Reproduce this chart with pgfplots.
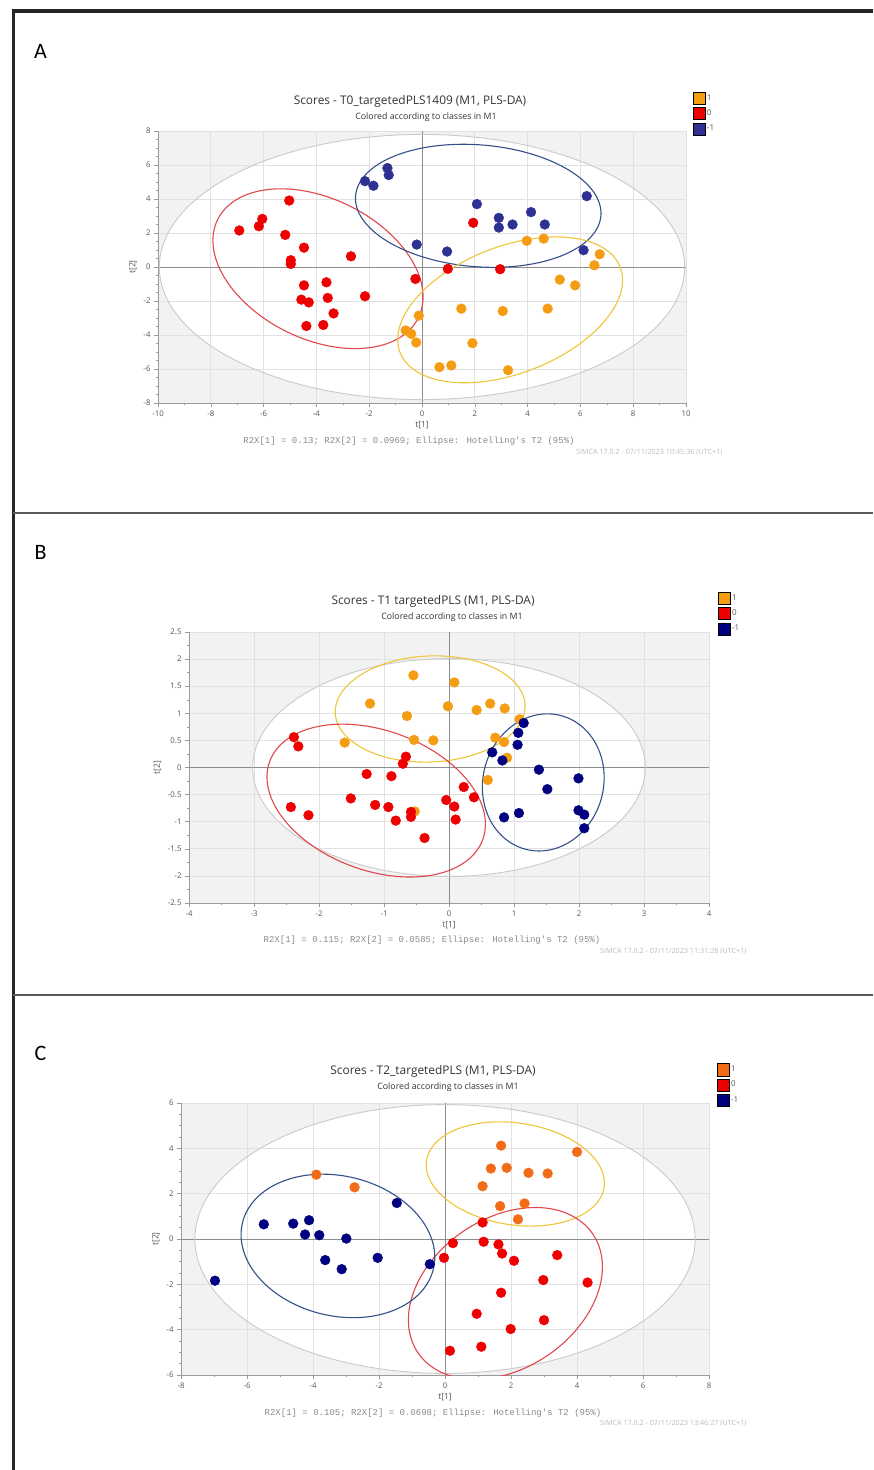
\documentclass[border=0pt]{standalone}
\usepackage{pgfplots}
\pgfplotsset{compat=1.18}
\usepackage{fontspec}
\setmainfont{Open Sans}
\newfontfamily\monof{Liberation Mono}
\newfontfamily\calib{Carlito}
\definecolor{orgA}{HTML}{F59D12}
\definecolor{orgC}{HTML}{F26C18}
\definecolor{redP}{HTML}{EE0000}
\definecolor{bluA}{HTML}{2E3192}
\definecolor{navy}{HTML}{000080}
\definecolor{elRed}{HTML}{E0474C}
\definecolor{elBlue}{HTML}{34508A}
\definecolor{elYel}{HTML}{F0C53A}
\definecolor{elGray}{HTML}{CACACA}
\definecolor{bgc}{HTML}{F2F2F2}
\definecolor{gridc}{HTML}{E1E1E1}
\definecolor{axgray}{HTML}{9A9A9A}
\definecolor{zeroc}{HTML}{8C8C8C}
\definecolor{lblc}{HTML}{555555}
\definecolor{txtc}{HTML}{333333}
\definecolor{monoc}{HTML}{8A8A8A}
\definecolor{simc}{HTML}{BBBBBB}
\newcommand{\ellp}[6]{\addplot[#6, domain=0:360, samples=181, variable=\t, forget plot, no markers] ({#1+#2*cos(\t)},{#3+#4*cos(\t-#5)});}
\pgfplotsset{
  simca/.style={
    set layers=standard,
    scale only axis,
    axis lines*=left,
    axis line style={draw=axgray, line width=0.6pt},
    tick align=outside,
    major tick length=4pt, minor tick length=2.2pt,
    tick style={draw=axgray, line width=0.5pt},
    grid=major,
    major grid style={draw=gridc, line width=0.7pt},
    axis background/.style={fill=bgc},
    ticklabel style={font=\fontsize{7.8}{8}\selectfont, text=lblc},
    /pgf/number format/assume math mode=true,
    label style={font=\fontsize{8.5}{9}\selectfont, text=lblc},
    xlabel={t[1]}, ylabel={t[2]},
    xlabel style={yshift=1.5pt},
    legend image code/.code={\path[##1] (0pt,-6pt) rectangle (12pt,6pt);},
    legend style={draw=none, fill=none, anchor=north west, font=\fontsize{8}{8}\selectfont, text=lblc, row sep=2.7pt, inner sep=0pt, nodes={inner sep=1.5pt}},
    legend cell align=left,
  },
  pts/.style={only marks, mark=*, mark size=4.9pt, forget plot},
}
\begin{document}
\begin{tikzpicture}
% frame
\draw[line width=3.2pt, black!85] (12pt,-11pt) -- (873pt,-11pt);
\draw[line width=2.7pt, black!85] (13.5pt,-9.5pt) -- (13.5pt,-1470pt);
\draw[line width=1.8pt, black!65] (13pt,-512.7pt) -- (873pt,-512.7pt);
\draw[line width=1.8pt, black!65] (13pt,-995pt) -- (873pt,-995pt);
\node[font=\calib\fontsize{22}{24}\selectfont] at (40.5pt,-51pt) {A};
\node[font=\calib\fontsize{22}{24}\selectfont] at (40.5pt,-552pt) {B};
\node[font=\calib\fontsize{22}{24}\selectfont] at (40.5pt,-1053pt) {C};

% ---------------- Panel A ----------------
\node[font=\fontsize{11.9}{13}\selectfont, text=txtc] at (410pt,-101pt) {Scores - T0\_targetedPLS1409 (M1, PLS-DA)};
\node[font=\fontsize{8.8}{10}\selectfont, text=txtc] at (426pt,-117pt) {Colored according to classes in M1};
\node[font=\monof\fontsize{9}{10}\selectfont, text=monoc] at (409pt,-441pt) {R2X[1] = 0.13; R2X[2] = 0.0969; Ellipse: Hotelling's T2 (95\%)};
\node[font=\fontsize{7.2}{8}\selectfont, text=simc, anchor=east] at (726pt,-452pt) {SIMCA 17.0.2 - 07/11/2023 10:45:36 (UTC+1)};
\begin{axis}[simca, at={(158pt,-403pt)}, anchor=south west, width=528pt, height=272pt,
  xmin=-10, xmax=10, ymin=-8, ymax=8, xtick distance=2, ytick distance=2,
  minor x tick num=1, minor y tick num=3,
  legend style={at={(axis description cs:1.013,1.143)}}]
\addlegendimage{fill=orgA}\addlegendentry{1}
\addlegendimage{fill=redP}\addlegendentry{0}
\addlegendimage{fill=bluA}\addlegendentry{-1}
\ellp{0}{9.95}{0}{7.8}{90}{on layer=axis background, fill=white, draw=none}
\addplot[zeroc, line width=0.8pt, forget plot, no markers] coordinates {(0,-8) (0,8)};
\addplot[zeroc, line width=0.8pt, forget plot, no markers] coordinates {(-10,0) (10,0)};
\ellp{0}{9.95}{0}{7.8}{90}{elGray, line width=0.9pt}
\ellp{-3.94}{3.98}{-0.1}{4.7}{110.7}{elRed, line width=1.1pt}
\ellp{2.13}{4.65}{3.6}{3.62}{97}{elBlue, line width=1.1pt}
\ellp{3.34}{4.26}{-2.52}{4.29}{66}{elYel, line width=1.1pt}
\addplot[pts, color=redP] coordinates {
(-6.92,2.15) (-6.18,2.40) (-6.05,2.83) (-5.03,3.91) (-5.18,1.89) (-4.47,1.14)
(-4.97,0.40) (-4.97,0.18) (-2.69,0.63) (-4.47,-1.08) (-3.62,-0.90) (-4.57,-1.92)
(-4.29,-2.08) (-3.57,-1.82) (-2.16,-1.72) (-3.35,-2.73) (-4.38,-3.47) (-3.74,-3.41)
(-0.25,-0.70) (0.98,-0.11) (1.94,2.60) (2.96,-0.13)};
\addplot[pts, color=bluA] coordinates {
(-2.16,5.05) (-1.84,4.78) (-1.31,5.82) (-1.26,5.41) (-0.20,1.32) (0.95,0.91)
(2.08,3.70) (2.91,2.89) (2.91,2.32) (3.43,2.50) (4.13,3.23) (4.65,2.50)
(6.24,4.17) (6.12,0.99)};
\addplot[pts, color=orgA] coordinates {
(3.97,1.54) (4.61,1.67) (6.73,0.75) (6.53,0.10) (5.22,-0.74) (5.80,-1.08)
(4.76,-2.45) (1.49,-2.45) (3.06,-2.59) (-0.12,-2.86) (-0.62,-3.73) (-0.41,-3.93)
(-0.22,-4.44) (1.91,-4.48) (0.66,-5.89) (1.11,-5.79) (3.26,-6.07)};
\end{axis}

% ---------------- Panel B ----------------
\node[font=\fontsize{11.9}{13}\selectfont, text=txtc] at (433pt,-601pt) {Scores - T1 targetedPLS (M1, PLS-DA)};
\node[font=\fontsize{8.8}{10}\selectfont, text=txtc] at (452pt,-617pt) {Colored according to classes in M1};
\node[font=\monof\fontsize{9}{10}\selectfont, text=monoc] at (432pt,-940pt) {R2X[1] = 0.115; R2X[2] = 0.0585; Ellipse: Hotelling's T2 (95\%)};
\node[font=\fontsize{7.2}{8}\selectfont, text=simc, anchor=east] at (750pt,-951pt) {SIMCA 17.0.2 - 07/11/2023 11:31:28 (UTC+1)};
\begin{axis}[simca, at={(189pt,-903pt)}, anchor=south west, width=520pt, height=271pt,
  xmin=-4, xmax=4, ymin=-2.5, ymax=2.5, xtick distance=1, ytick distance=0.5,
  minor x tick num=1, minor y tick num=1,
  legend style={at={(axis description cs:1.0173,1.147)}}]
\addlegendimage{fill=orgA}\addlegendentry{1}
\addlegendimage{fill=redP}\addlegendentry{0}
\addlegendimage{fill=navy}\addlegendentry{-1}
\ellp{0}{3.02}{0}{2.01}{90}{on layer=axis background, fill=white, draw=none}
\addplot[zeroc, line width=0.8pt, forget plot, no markers] coordinates {(0,-2.5) (0,2.5)};
\addplot[zeroc, line width=0.8pt, forget plot, no markers] coordinates {(-4,0) (4,0)};
\ellp{0}{3.02}{0}{2.01}{90}{elGray, line width=0.9pt}
\ellp{-0.29}{1.46}{1.08}{0.98}{87}{elYel, line width=1.1pt}
\ellp{-1.12}{1.68}{-0.61}{1.41}{108}{elRed, line width=1.1pt}
\ellp{1.45}{0.937}{-0.275}{1.265}{86}{elBlue, line width=1.1pt}
\addplot[pts, color=orgA] coordinates {
(-0.548,1.70) (0.082,1.57) (-1.215,1.18) (-0.647,0.95) (-0.017,1.13) (0.425,1.06)
(0.634,1.18) (0.857,1.09) (-1.605,0.46) (-0.538,0.51) (-0.241,0.50) (1.086,0.89)
(0.712,0.55) (0.847,0.47) (0.894,0.18) (0.597,-0.23) (-0.527,-0.81)};
\addplot[pts, color=redP] coordinates {
(-2.386,0.56) (-2.318,0.39) (-0.663,0.20) (-0.710,0.07) (-1.267,-0.12) (-0.886,-0.16)
(0.227,-0.36) (0.384,-0.55) (-1.511,-0.57) (-1.136,-0.69) (-0.933,-0.73) (-0.043,-0.60)
(0.082,-0.72) (-2.433,-0.73) (-2.162,-0.88) (-0.585,-0.82) (-0.585,-0.91) (-0.819,-0.98)
(0.102,-0.96) (-0.376,-1.30)};
\addplot[pts, color=navy] coordinates {
(1.149,0.82) (1.066,0.64) (1.055,0.42) (0.665,0.28) (0.821,0.13) (1.383,-0.04)
(1.513,-0.40) (1.992,-0.20) (1.992,-0.79) (2.081,-0.87) (2.081,-1.12) (1.076,-0.84)
(0.847,-0.92)};
\end{axis}

% ---------------- Panel C ----------------
\node[font=\fontsize{11.9}{13}\selectfont, text=txtc] at (433pt,-1071pt) {Scores - T2\_targetedPLS (M1, PLS-DA)};
\node[font=\fontsize{8.8}{10}\selectfont, text=txtc] at (448pt,-1087pt) {Colored according to classes in M1};
\node[font=\monof\fontsize{9}{10}\selectfont, text=monoc] at (433pt,-1413pt) {R2X[1] = 0.105; R2X[2] = 0.0698; Ellipse: Hotelling's T2 (95\%)};
\node[font=\fontsize{7.2}{8}\selectfont, text=simc, anchor=east] at (750pt,-1423pt) {SIMCA 17.0.2 - 07/11/2023 13:46:27 (UTC+1)};
\begin{axis}[simca, at={(181pt,-1375pt)}, anchor=south west, width=528pt, height=272pt,
  xmin=-8, xmax=8, ymin=-6, ymax=6, xtick distance=2, ytick distance=2,
  minor x tick num=1, minor y tick num=3,
  legend style={at={(axis description cs:1.0152,1.146)}}]
\addlegendimage{fill=orgC}\addlegendentry{1}
\addlegendimage{fill=redP}\addlegendentry{0}
\addlegendimage{fill=navy}\addlegendentry{-1}
\ellp{0}{7.58}{0}{5.93}{90}{on layer=axis background, fill=white, draw=none}
\addplot[zeroc, line width=0.8pt, forget plot, no markers] coordinates {(0,-6) (0,6)};
\addplot[zeroc, line width=0.8pt, forget plot, no markers] coordinates {(-8,0) (8,0)};
\ellp{0}{7.58}{0}{5.93}{90}{elGray, line width=0.9pt}
\ellp{2.13}{2.70}{2.87}{2.30}{100}{elYel, line width=1.1pt}
\ellp{1.83}{2.94}{-2.40}{3.79}{72}{elRed, line width=1.1pt}
\ellp{-3.245}{2.935}{-0.305}{3.165}{99}{elBlue, line width=1.1pt}
\addplot[pts, color=orgC] coordinates {
(1.70,4.12) (4.00,3.84) (1.39,3.11) (1.87,3.14) (2.53,2.92) (3.11,2.89)
(1.14,2.33) (1.67,1.45) (2.41,1.57) (2.21,0.87) (-3.90,2.84) (-2.74,2.28)};
\addplot[pts, color=redP] coordinates {
(1.14,0.73) (0.24,-0.18) (1.17,-0.12) (1.62,-0.24) (1.73,-0.64) (2.09,-0.96)
(-0.03,-0.83) (3.40,-0.71) (2.98,-1.81) (4.32,-1.92) (1.70,-2.37) (0.96,-3.30)
(3.00,-3.58) (1.99,-3.97) (1.10,-4.75) (0.15,-4.93)};
\addplot[pts, color=navy] coordinates {
(-6.97,-1.84) (-5.49,0.65) (-4.60,0.68) (-4.12,0.83) (-4.24,0.20) (-3.81,0.17)
(-2.99,0.02) (-3.63,-0.93) (-3.13,-1.33) (-2.04,-0.83) (-1.46,1.59) (-0.46,-1.11)};
\end{axis}
\pgfresetboundingbox
\useasboundingbox (0pt,0pt) rectangle (873pt,-1470pt);
\end{tikzpicture}
\end{document}
